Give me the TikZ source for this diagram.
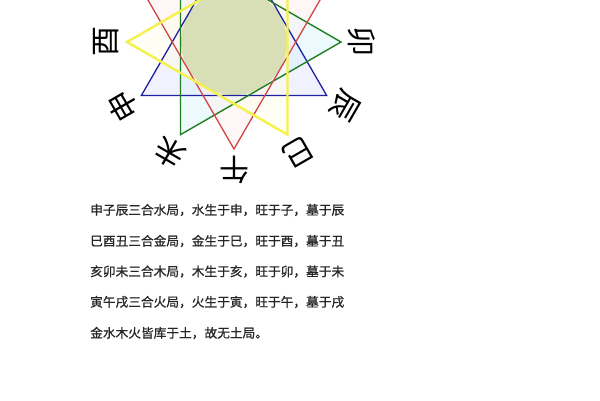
\documentclass[tikz,border=0pt]{standalone}
\usepackage{fontspec}
\usepackage{tikz}
\newfontfamily\cjk{Noto Sans CJK SC}
\newfontfamily\cjkverse[FakeBold=0.8]{Noto Sans CJK SC}

\definecolor{firered}{HTML}{D04545}
\definecolor{waterblue}{HTML}{1E22A0}
\definecolor{woodgreen}{HTML}{1F7F22}
\definecolor{metalyellow}{HTML}{F4F24A}
\definecolor{earthdisc}{HTML}{D8DEB6}

\tikzset{
	branch/.style={font=\cjk\fontsize{30}{30}\selectfont, inner sep=0pt},
	verse/.style={font=\cjkverse\fontsize{12.7}{14}\selectfont, text=black!85, anchor=west, inner sep=0pt},
	fire/.style={draw=firered, line width=1.3pt},
	water/.style={draw=waterblue, line width=1.3pt},
	wood/.style={draw=woodgreen, line width=1.4pt},
	metal/.style={draw=metalyellow, line width=2.4pt},
	tint/.style={fill=#1, fill opacity=.5}
}

\begin{document}
\begin{tikzpicture}[x=1pt,y=1pt]
		\useasboundingbox (0,0) rectangle (600,400);
		\clip (0,0) rectangle (600,400);
		\fill[white] (0,0) rectangle (600,400);
		\coordinate (o) at (234,358);
		% twelve branches round the wheel
		\foreach \n/\c/\a in {zi/子/90, chou/丑/60, yin/寅/30, mao/卯/0, chen/辰/-30, si/巳/-60,
			wu/午/-90, wei/未/-120, shen/申/-150, you/酉/180, xu/戌/150, hai/亥/120} {
			\coordinate (\n) at ([shift={(\a:107)}]o);
			\node[branch, rotate=\a-90] (l\n) at ([shift={(\a:128)}]o) {\c};
		}
		% light tints first, then the disc, then the edges
		\fill[tint=blue!10] (shen) -- (zi) -- (chen) -- cycle;
		\fill[tint=cyan!14] (hai) -- (mao) -- (wei) -- cycle;
		\fill[tint=red!6] (yin) -- (wu) -- (xu) -- cycle;
		\fill[tint=yellow!8] (si) -- (you) -- (chou) -- cycle;
		\fill[earthdisc] (o) circle (53);
		\draw[water] (shen) -- (zi) -- (chen) -- cycle;
		\draw[wood] (hai) -- (mao) -- (wei) -- cycle;
		\draw[fire] (yin) -- (wu) -- (xu) -- cycle;
		\draw[metal] (si) -- (you) -- (chou) -- cycle;
		% the four lines and the last one
		\node[verse] (line1) at (90,190) {申子辰三合水局，水生于申，旺于子，墓于辰};
		\node[verse] (line2) at (90,159) {巳酉丑三合金局，金生于巳，旺于酉，墓于丑};
		\node[verse] (line3) at (90,128.5) {亥卯未三合木局，木生于亥，旺于卯，墓于未};
		\node[verse] (line4) at (90,98) {寅午戌三合火局，火生于寅，旺于午，墓于戌};
		\node[verse] (line5) at (90,67) {金水木火皆库于土，故无土局。};
	\end{tikzpicture}
\end{document}
